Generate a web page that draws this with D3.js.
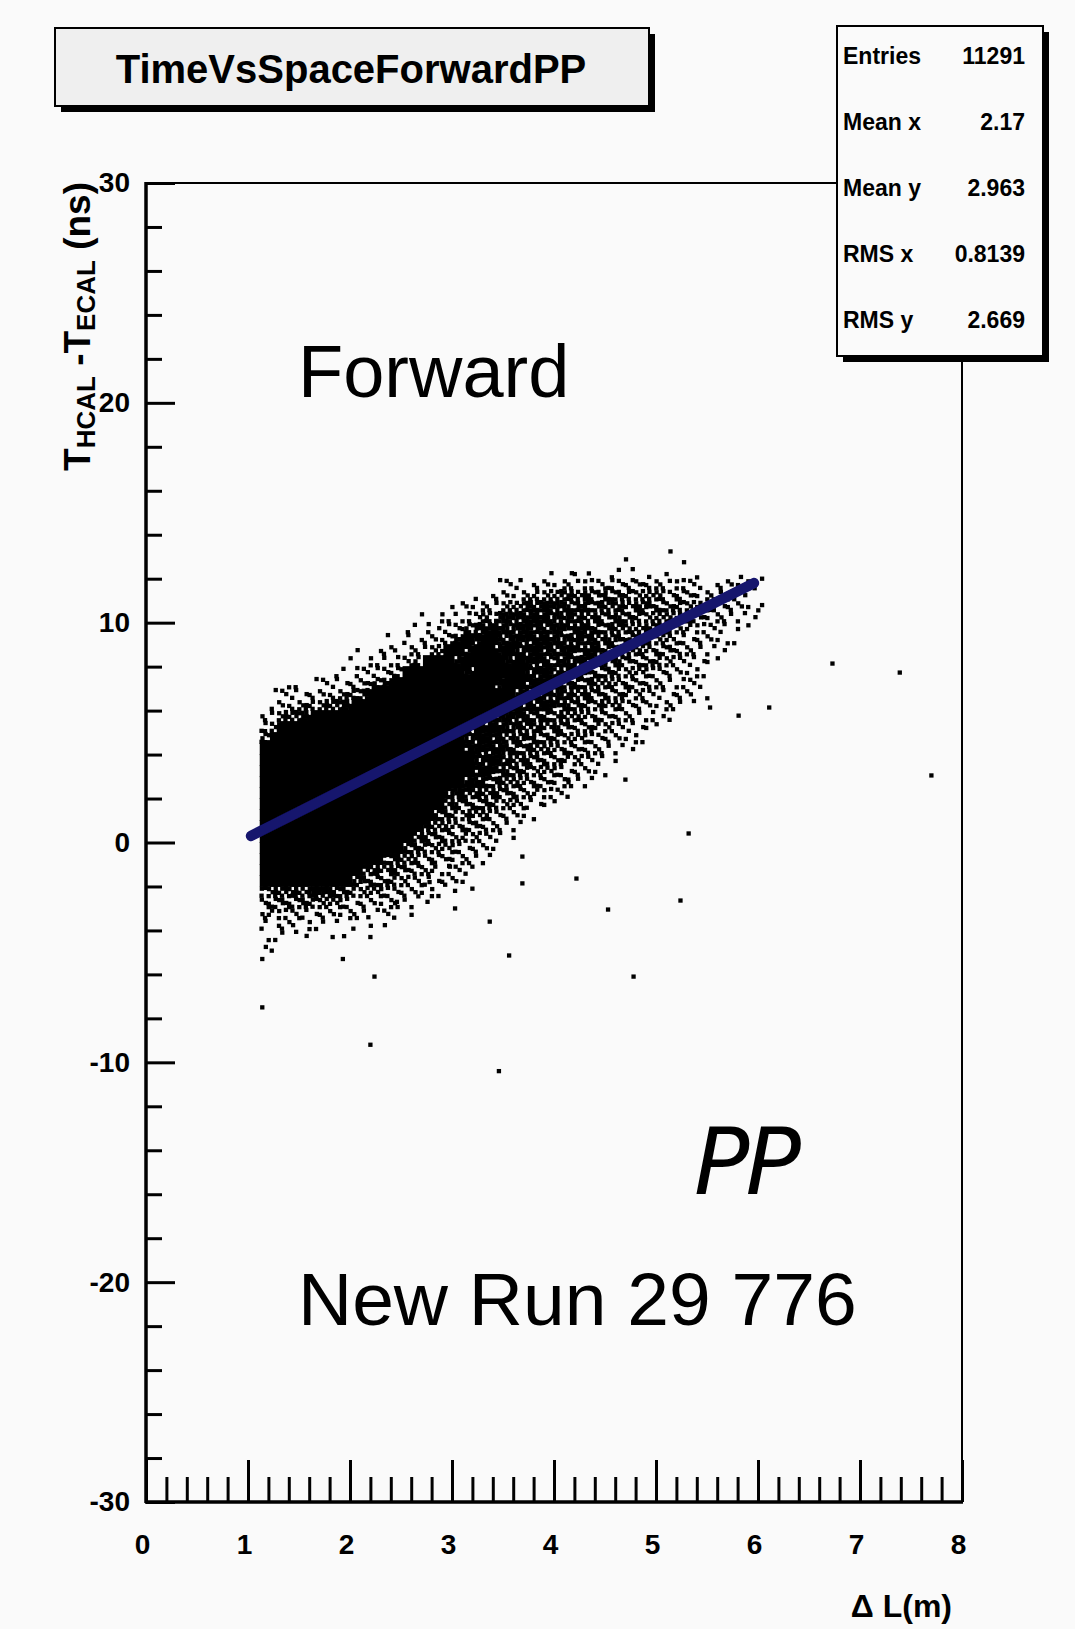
<!DOCTYPE html>
<html>
<head>
<meta charset="utf-8">
<script src="https://cdn.jsdelivr.net/npm/d3@7"></script>
<style>
  html, body { margin: 0; padding: 0; background: #fafafa; }
  svg { display: block; }
  text { font-family: "Liberation Sans", Arial, Helvetica, sans-serif; fill: #000; }
</style>
</head>
<body>
<svg id="chart" width="1075" height="1629"></svg>
<script>
// ---- data ---------------------------------------------------------------
const X_DOMAIN = [0, 8];
const Y_DOMAIN = [-30, 30];
const X_TICKS = [0, 1, 2, 3, 4, 5, 6, 7, 8];
const Y_TICKS = [-30, -20, -10, 0, 10, 20, 30];

const TITLE = 'TimeVsSpaceForwardPP';
const STAT_NAMES = ['Entries', 'Mean x', 'Mean y', 'RMS x', 'RMS y'];
const STAT_VALUES = ['11291', '2.17', '2.963', '0.8139', '2.669'];

// scatter density, binned: columns of 0.1 m from 1.12 m, rows of 0.5 ns from 13.5 ns down
// 0 = empty ... 9 = solid black
const CELL_X0 = 1.12, CELL_DX = 0.1, CELL_Y0 = 13.5, CELL_DY = 0.5;
const DENSITY = [
  '0000000000 0000000000 0000000000 0000000000 1000000000 0',
  '0000000000 0000000000 0000000000 0000010000 0100000000 0',
  '0000000000 0000000000 0000000010 2010111011 0010000100 0',
  '0000000000 0000000000 0001221222 3434444443 4321122210 0',
  '0000000000 0000000000 0112234557 7767666565 5443322100 0',
  '0000000000 0000000011 2234568888 7877776766 5654433210 0',
  '0000000000 0000010213 3558888887 8776776656 6554332110 0',
  '0000000000 0000112134 6888888888 7877776766 5443221100 0',
  '0000000000 0010213358 9898888888 7887767755 4432211000 0',
  '0000000001 0121334599 8998988888 8787776655 5432110000 0',
  '0000000010 2132459998 9999898878 8878665655 4322100000 0',
  '0000000112 2345999999 8999998887 8866655544 3321000000 0',
  '0011012233 4789999999 9998998887 7776655443 3321000000 0',
  '0122233457 8999999999 9999988878 7766554433 2211000000 0',
  '0334556789 9999999999 9999888887 7666554432 2110000000 0',
  '2467899999 9999999999 9988887776 6655443321 1000000000 0',
  '4799999999 9999999999 8988877766 5554433210 0000000000 0',
  '7999999999 9999999999 8888777666 5544332100 0000000000 0',
  '9999999999 9999999999 8888777665 5443211000 0000000000 0',
  '9999999999 9999999999 9888776655 4432100000 0000000000 0',
  '9999999999 9999999999 9887766554 3321000000 0000000000 0',
  '9999999999 9999999999 8877665543 3210000000 0000000000 0',
  '9999999999 9999999988 7776654432 1000000000 0000000000 0',
  '9999999999 9999999976 6665543210 0000000000 0000000000 0',
  '9999999999 9999999765 6554321000 0000000000 0000000000 0',
  '9999999999 9999997665 5543210000 0000000000 0000000000 0',
  '9999999999 9999976654 5432100000 0000000000 0000000000 0',
  '9999999999 9999766554 3220000000 0000000000 0000000000 0',
  '9999999999 9977655443 3210000000 0000000000 0000000000 0',
  '9999999999 7766554332 1000000000 0000000000 0000000000 0',
  '9999999997 6655443322 0000000000 0000000000 0000000000 0',
  '6677788765 5544332100 0000000000 0000000000 0000000000 0',
  '5565665543 3332200000 0000000000 0000000000 0000000000 0',
  '4434332322 1121100000 0000000000 0000000000 0000000000 0',
  '2121211101 1010000000 0000000000 0000000000 0000000000 0',
  '1111100010 0000000000 0000000000 0000000000 0000000000 0',
  '1100000000 0000000000 0000000000 0000000000 0000000000 0'
];

// isolated points outside / at the rim of the cloud
const OUT_X = [1.14, 1.93, 2.24, 4.78, 1.14, 2.20, 3.46, 4.14, 4.70, 5.32, 3.69, 3.69, 4.22, 4.53, 5.24, 3.56,
               6.04, 6.04, 6.73, 7.39, 6.11, 7.70, 5.53, 5.81, 2.78, 2.98, 3.03, 3.03, 3.20, 3.20, 3.37, 2.76,
               2.67, 2.46, 2.18, 2.20, 1.83];
const OUT_Y = [-5.3, -5.3, -6.1, -6.1, -7.5, -9.2, -10.4, 2.86, 2.86, 0.41, -0.64, -1.86, -1.64, -3.05, -2.64, -5.14,
               12.0, 10.8, 8.14, 7.73, 6.14, 3.05, 6.14, 5.77, -1.8, -1.1, -2.2, -3.0, -1.1, -2.1, -3.6, -2.7,
               -2.45, -2.7, -3.4, -4.3, -4.3];

// blue fitted band
const FIT_X = [1.03, 5.96];
const FIT_Y = [0.3, 11.8];

// ---- drawing --------------------------------------------------------------
const svg = d3.select('#chart');
const x = d3.scaleLinear().domain(X_DOMAIN).range([146, 962]);
const y = d3.scaleLinear().domain(Y_DOMAIN).range([1502, 183]);

svg.append('rect').attr('width', 1075).attr('height', 1629).attr('fill', '#fafafa');
svg.append('defs').append('filter').attr('id', 'soft')
  .append('feGaussianBlur').attr('stdDeviation', 0.7);

// scatter cells: dots sit on slightly uneven sub-positions inside each bin
const SUB = [[0.16, 0.20], [0.52, 0.13], [0.86, 0.24], [0.22, 0.52], [0.55, 0.50],
             [0.84, 0.58], [0.13, 0.84], [0.47, 0.87], [0.83, 0.88]];
const ORDER = [4, 0, 8, 2, 6, 1, 7, 3, 5];
const DOTS_PER_LEVEL = [0, 1, 2, 2, 3, 4, 5, 6, 8];
const cells = [];
DENSITY.forEach((row, j) => {
  row.replace(/ /g, '').split('').forEach((ch, i) => {
    const L = +ch;
    if (L) cells.push({ i, j, L });
  });
});

const scat = svg.append('g').attr('filter', 'url(#soft)');
const solid = [], dots = [];
cells.forEach(c => {
  const x0 = CELL_X0 + c.i * CELL_DX, yTop = CELL_Y0 - c.j * CELL_DY;
  const px0 = x(x0), px1 = x(x0 + CELL_DX), py0 = y(yTop), py1 = y(yTop - CELL_DY);
  if (c.L >= 9) { solid.push({ px0, px1, py0, py1 }); return; }
  const start = (c.i * 4 + c.j * 7) % 9;
  for (let k = 0; k < DOTS_PER_LEVEL[c.L]; k++) {
    const s = SUB[ORDER[(start + k) % 9]];
    dots.push({ cx: px0 + s[0] * (px1 - px0), cy: py0 + s[1] * (py1 - py0) });
  }
});
OUT_X.forEach((v, k) => dots.push({ cx: x(v), cy: y(OUT_Y[k]) }));

scat.selectAll('rect.solid').data(solid).enter().append('rect')
  .attr('class', 'solid')
  .attr('x', d => d.px0 - 0.5).attr('y', d => d.py0 - 0.5)
  .attr('width', d => d.px1 - d.px0 + 1).attr('height', d => d.py1 - d.py0 + 1)
  .attr('fill', '#000');
scat.selectAll('rect.dot').data(dots).enter().append('rect')
  .attr('class', 'dot')
  .attr('x', d => d.cx - 2.15).attr('y', d => d.cy - 2.15)
  .attr('width', 4.3).attr('height', 4.3)
  .attr('fill', '#000');

// fit band
svg.append('path')
  .datum(FIT_X.map((v, k) => [v, FIT_Y[k]]))
  .attr('d', d3.line().x(d => x(d[0])).y(d => y(d[1])))
  .attr('fill', 'none').attr('stroke', '#14136d').attr('stroke-width', 10.5).attr('stroke-linecap', 'round')
  .attr('filter', 'url(#soft)');

// frame
svg.append('rect').attr('x', 146).attr('y', 183).attr('width', 816).attr('height', 1319)
  .attr('fill', 'none').attr('stroke', '#000').attr('stroke-width', 2);

// axes
const xMinor = d3.range(0, 8.001, 0.2).filter(v => Math.abs(v - Math.round(v)) > 1e-6);
const yMinor = d3.range(-30, 30.001, 2).filter(v => v % 10 !== 0);

const gx = svg.append('g').attr('transform', 'translate(0,1502)');
gx.append('g').call(d3.axisBottom(x).tickValues(xMinor).tickSize(-25).tickSizeOuter(0).tickFormat(''));
gx.append('g').call(d3.axisBottom(x).tickValues(X_TICKS).tickSize(-42).tickSizeOuter(0).tickPadding(32).tickFormat(d => String(d)));
gx.selectAll('.domain').remove();
gx.selectAll('line').attr('stroke', '#000').attr('stroke-width', 3);
gx.selectAll('text').attr('dx', -4).style('font-size', '28px').style('font-weight', 'bold').attr('fill', '#000');

const gy = svg.append('g').attr('transform', 'translate(146,0)');
gy.append('g').call(d3.axisLeft(y).tickValues(yMinor).tickSize(-16).tickSizeOuter(0).tickFormat(''));
gy.append('g').call(d3.axisLeft(y).tickValues(Y_TICKS).tickSize(-29).tickSizeOuter(0).tickPadding(16).tickFormat(d => String(d)));
gy.selectAll('.domain').remove();
gy.selectAll('line').attr('stroke', '#000').attr('stroke-width', 3);
gy.selectAll('text').style('font-size', '28px').style('font-weight', 'bold').attr('fill', '#000');

svg.append('line').attr('x1', 146).attr('x2', 146).attr('y1', 182).attr('y2', 1503).attr('stroke', '#000').attr('stroke-width', 3.5);
svg.append('line').attr('x1', 145).attr('x2', 963).attr('y1', 1502).attr('y2', 1502).attr('stroke', '#000').attr('stroke-width', 3.5);

// axis titles
svg.append('text').attr('x', 952).attr('y', 1617).attr('text-anchor', 'end')
  .style('font-size', '32px').style('font-weight', 'bold').text('\u0394 L(m)');

const yt = svg.append('text').attr('transform', 'translate(90,182) rotate(-90)').attr('text-anchor', 'end')
  .style('font-size', '37px').style('font-weight', 'bold');
yt.append('tspan').text('T');
yt.append('tspan').attr('dy', 5).style('font-size', '26px').text('HCAL');
yt.append('tspan').attr('dy', -5).text(' -T');
yt.append('tspan').attr('dy', 5).style('font-size', '26px').text('ECAL');
yt.append('tspan').attr('dy', -5).text('  (ns)');

// title box
svg.append('rect').attr('x', 61).attr('y', 34).attr('width', 594).attr('height', 78).attr('fill', '#000');
svg.append('rect').attr('x', 55).attr('y', 28).attr('width', 594).attr('height', 78)
  .attr('fill', '#efefef').attr('stroke', '#000').attr('stroke-width', 2);
svg.append('text').attr('x', 351).attr('y', 83).attr('text-anchor', 'middle')
  .style('font-size', '40px').style('font-weight', 'bold').text(TITLE);

// stats box
svg.append('rect').attr('x', 843).attr('y', 32).attr('width', 206).attr('height', 330).attr('fill', '#000');
svg.append('rect').attr('x', 837).attr('y', 26).attr('width', 206).attr('height', 330)
  .attr('fill', '#fafafa').attr('stroke', '#000').attr('stroke-width', 2);
const statY = d3.scalePoint().domain(STAT_NAMES).range([56, 320]);
svg.append('g').selectAll('text').data(STAT_NAMES).enter().append('text')
  .attr('x', 843).attr('y', d => statY(d) + 8)
  .style('font-size', '23px').style('font-weight', 'bold').text(d => d);
svg.append('g').selectAll('text').data(STAT_VALUES).enter().append('text')
  .attr('x', 1025).attr('y', (d, k) => statY(STAT_NAMES[k]) + 8).attr('text-anchor', 'end')
  .style('font-size', '23px').style('font-weight', 'bold').text(d => d);

// annotations
svg.append('text').attr('x', 298).attr('y', 397).style('font-size', '74px').text('Forward');
svg.append('text').attr('x', 298).attr('y', 1325).style('font-size', '75px').text('New Run 29 776');
svg.append('text').attr('x', 694).attr('y', 1194)
  .style('font-family', '"DejaVu Sans", sans-serif').style('font-style', 'italic')
  .style('font-size', '92px').style('letter-spacing', '-4px').text('PP');
</script>
</body>
</html>
